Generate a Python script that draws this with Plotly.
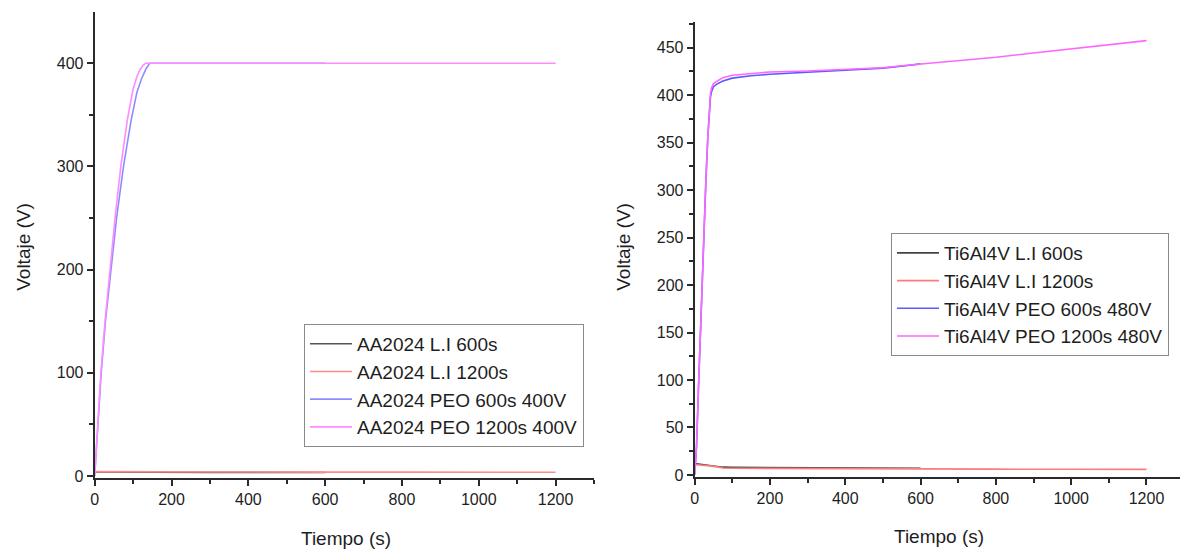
import plotly.graph_objects as go

# ---- AA2024 (left panel) ----
aa_li600_t = [0, 50, 100, 200, 300, 400, 500, 600]
aa_li600_v = [4.0, 3.8, 3.7, 3.6, 3.5, 3.5, 3.4, 3.4]
aa_li1200_t = [0, 100, 200, 400, 600, 800, 1000, 1200]
aa_li1200_v = [4.2, 4.0, 3.9, 3.8, 3.7, 3.7, 3.6, 3.6]
aa_peo600_t = [0, 8, 17, 28, 42, 57, 75, 95, 110, 122, 133, 140, 143, 200, 300, 400, 500, 600]
aa_peo600_v = [0, 48, 100, 150, 200, 250, 300, 345, 372, 385, 394, 398, 400, 400, 400, 400, 400, 400]
aa_peo1200_t = [0, 8, 16, 27, 40, 53, 68, 85, 100, 110, 118, 126, 133, 200, 400, 600, 800, 1000, 1200]
aa_peo1200_v = [0, 50, 100, 150, 200, 250, 300, 345, 375, 387, 394, 398, 400, 400, 400, 400, 400, 400, 400]

# ---- Ti6Al4V (right panel) ----
ti_li600_t = [0, 10, 20, 40, 60, 75, 100, 200, 300, 400, 500, 600]
ti_li600_v = [12.0, 11.5, 11.0, 10.2, 9.2, 8.2, 8.0, 7.8, 7.6, 7.3, 7.1, 7.0]
ti_li1200_t = [0, 10, 20, 40, 60, 75, 100, 200, 400, 600, 800, 1000, 1200]
ti_li1200_v = [11.0, 10.8, 10.4, 9.6, 8.5, 7.3, 7.0, 6.8, 6.5, 6.3, 6.1, 6.0, 5.9]
ti_peo600_t = [0, 2, 5, 10, 15, 20, 25, 30, 35, 39, 42, 45, 50, 60, 75, 100, 150, 200, 300, 400, 500, 560, 600]
ti_peo600_v = [0, 10, 30, 90, 150, 210, 262, 312, 356, 386, 398, 404, 409, 412, 415, 418, 420.5, 422, 424, 426, 428.5, 431, 433]
ti_peo1200_t = [0, 2, 5, 10, 15, 20, 25, 30, 35, 39, 42, 45, 50, 60, 75, 100, 150, 200, 300, 400, 500, 550, 700, 800, 900, 1000, 1100, 1200]
ti_peo1200_v = [0, 10, 30, 90, 150, 210, 262, 312, 356, 388, 402, 408, 412, 415, 418.5, 421, 423, 424.5, 425.5, 427, 429, 431, 436, 440, 444.5, 449, 453, 457.5]

aa_names = ["AA2024 L.I 600s", "AA2024 L.I 1200s", "AA2024 PEO 600s 400V", "AA2024 PEO 1200s 400V"]
ti_names = ["Ti6Al4V L.I 600s", "Ti6Al4V L.I 1200s", "Ti6Al4V PEO 600s 480V", "Ti6Al4V PEO 1200s 480V"]

FONT = "Liberation Sans, Arial, sans-serif"
W, H = 1182, 559
INK = "#1e1e1e"

left_colors = ["#555555", "#ff8a8a", "#8c8cff", "#ff8cff"]
right_colors = ["#444444", "#ff7a7a", "#5a5aff", "#ff66ff"]

fig = go.Figure()

left_series = [(aa_li600_t, aa_li600_v), (aa_li1200_t, aa_li1200_v),
               (aa_peo600_t, aa_peo600_v), (aa_peo1200_t, aa_peo1200_v)]
right_series = [(ti_li600_t, ti_li600_v), (ti_li1200_t, ti_li1200_v),
                (ti_peo600_t, ti_peo600_v), (ti_peo1200_t, ti_peo1200_v)]

for (t, v), name, c in zip(left_series, aa_names, left_colors):
    fig.add_trace(go.Scatter(x=t, y=v, name=name, mode="lines",
                             line=dict(color=c, width=1.6),
                             xaxis="x", yaxis="y", legend="legend"))
for (t, v), name, c in zip(right_series, ti_names, right_colors):
    fig.add_trace(go.Scatter(x=t, y=v, name=name, mode="lines",
                             line=dict(color=c, width=1.6),
                             xaxis="x2", yaxis="y2", legend="legend2"))

axis_common = dict(
    showline=True, linecolor="#2a2a2a", linewidth=2,
    ticks="outside", ticklen=6, tickwidth=1.5, tickcolor="#2a2a2a",
    showgrid=False, zeroline=False,
    tickfont=dict(family=FONT, size=16, color=INK),
)

def px_x(p):
    return p / W

def px_y(p):
    return 1 - p / H

def minor(step):
    return dict(ticks="outside", ticklen=4, tickwidth=1.5,
                tickcolor="#2a2a2a", dtick=step)

fig.update_layout(
    width=W, height=H,
    margin=dict(l=0, r=0, t=0, b=0),
    paper_bgcolor="white", plot_bgcolor="white",
    xaxis=dict(domain=[px_x(91), px_x(592)], range=[0, 1300], dtick=200,
               minor=minor(100), anchor="y", **axis_common),
    yaxis=dict(domain=[px_y(484), px_y(12)], range=[-1.9, 449.8], dtick=100,
               minor=minor(50), anchor="x", **axis_common),
    xaxis2=dict(domain=[px_x(693), px_x(1180)], range=[0, 1289], dtick=200,
                minor=minor(100), anchor="y2", **axis_common),
    yaxis2=dict(domain=[px_y(483), px_y(22)], range=[-2.1, 477.4], dtick=50,
                minor=minor(25), anchor="x2", **axis_common),
    legend=dict(x=px_x(301), y=px_y(328), xanchor="left", yanchor="top",
                bgcolor="white", bordercolor="#8a8a8a", borderwidth=1,
                itemwidth=42, font=dict(family=FONT, size=19, color=INK)),
    legend2=dict(x=px_x(890), y=px_y(236), xanchor="left", yanchor="top",
                 bgcolor="white", bordercolor="#8a8a8a", borderwidth=1,
                 itemwidth=42, font=dict(family=FONT, size=19, color=INK)),
    showlegend=True,
)

title_font = dict(family=FONT, size=19, color=INK)
annotations = [
    dict(text="Voltaje (V)", x=px_x(20), y=px_y(250), textangle=-90),
    dict(text="Voltaje (V)", x=px_x(622), y=px_y(250), textangle=-90),
    dict(text="Tiempo (s)", x=px_x(343), y=px_y(545)),
    dict(text="Tiempo (s)", x=px_x(938), y=px_y(543)),
]
for a in annotations:
    fig.add_annotation(xref="paper", yref="paper", showarrow=False,
                       xanchor="center", yanchor="middle", font=title_font, **a)

fig.write_html("out.html")
